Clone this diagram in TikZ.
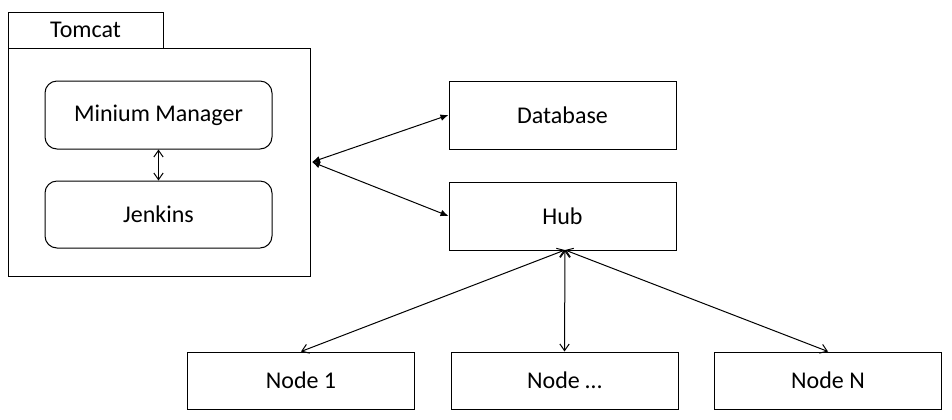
\documentclass[tikz,border=0pt]{standalone}
\usepackage{fontspec}
\setmainfont{Carlito}
\usepackage{tikz}
\usetikzlibrary{arrows.meta}

\begin{document}
\begin{tikzpicture}
  [x=0.75pt,y=-0.75pt,line width=0.75pt,
   font=\fontsize{18}{21}\selectfont,
   plain box/.style={draw,rectangle,minimum width=227*0.75pt,minimum height=68*0.75pt,inner sep=0pt},
   round box/.style={plain box,rounded corners=9pt},
   node box/.style={plain box,minimum height=57*0.75pt},
   open tip/.style={{Straight Barb[length=5pt,width=7pt]}-{Straight Barb[length=5pt,width=7pt]}},
   solid tip/.style={{Latex[length=6pt,width=5pt]}-{Latex[length=6pt,width=5pt]}}]

\useasboundingbox (0,0) rectangle (952,419);

% tomcat container
\draw (8,12) rectangle (163,48);
\node at (85.5,30) {Tomcat};
\draw (8,48) rectangle (310,276);

\node[round box] (mm) at (158.5,115) {Minium Manager};
\node[round box,minimum height=67*0.75pt] (jk) at (158.5,214.5) {Jenkins};

\node[plain box] (db) at (562.5,115) {Database};
\node[plain box] (hub) at (562.5,216) {Hub};

\node[node box] (n1) at (301,380.5) {Node 1};
\node[node box] (nd) at (564.5,380.5) {Node \dots};
\node[node box] (nn) at (828,380.5) {Node N};

\coordinate (tc) at (312,162);
\coordinate (hb) at (565,250);

\path
  (mm) edge [open tip] (jk)
  (tc) edge [solid tip] (db.west)
  (tc) edge [solid tip] (hub.west)
  (hb) edge [open tip] (n1.north)
  (hb) edge [open tip] (nd.north)
  (hb) edge [open tip] (nn.north);

\end{tikzpicture}
\end{document}
